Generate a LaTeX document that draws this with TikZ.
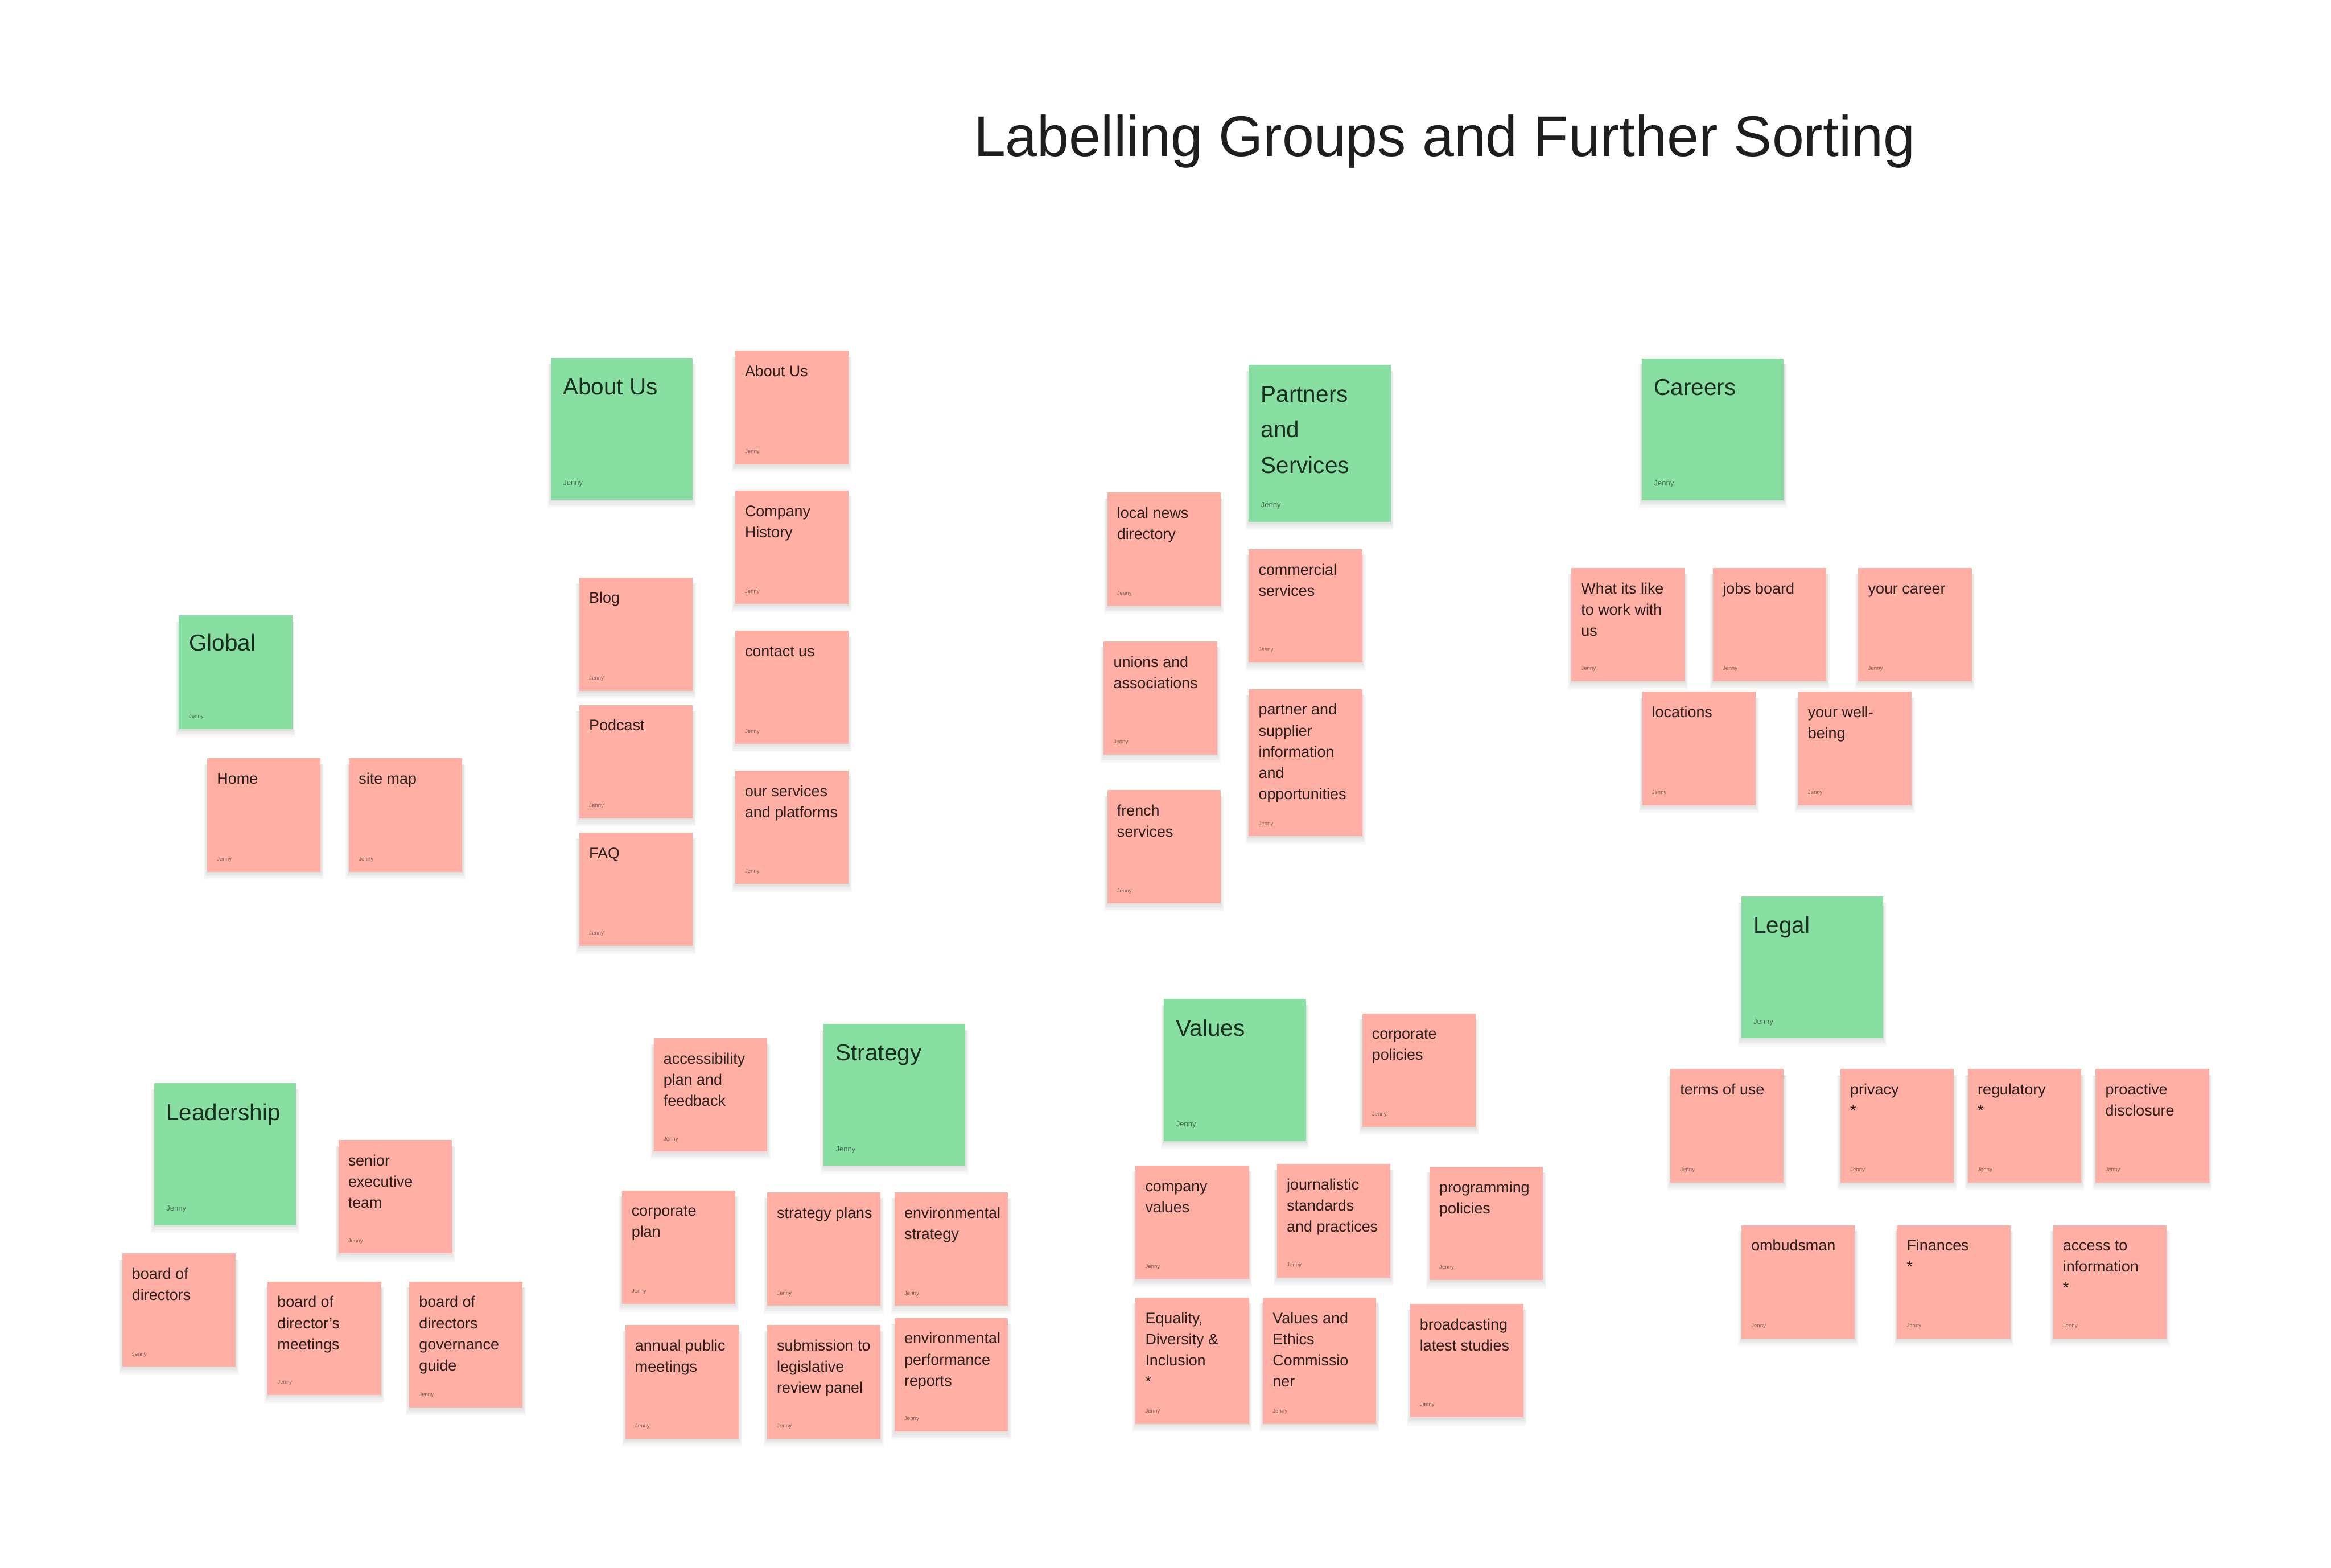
\documentclass[tikz,border=0pt]{standalone}
\usepackage{fontspec}
\setmainfont{Liberation Sans}
\usetikzlibrary{calc}
\definecolor{pinkc}{HTML}{FFAFA3}
\definecolor{greenc}{HTML}{87E0A2}
\definecolor{pinktext}{HTML}{2B201F}
\definecolor{pinkjen}{HTML}{7D5E59}
\definecolor{greentext}{HTML}{1B2E21}
\definecolor{greenjen}{HTML}{476B51}
\definecolor{titlec}{HTML}{1E1E1E}
\tikzset{
  note/.style={draw=none, inner sep=0pt, outer sep=0pt, anchor=north west},
  noteshadow/.style={fill=black, opacity=0.022},
  notetext/.style={inner sep=0pt, outer sep=0pt, anchor=base west},
}
\newcommand\pinkkind{\def\kfill{pinkc}\def\kdx{6.6}\def\kdy{17.3}%
  \def\kfont{\fontsize{10.3}{14.2}\selectfont}\def\kjdy{7.4}%
  \def\kjfont{\fontsize{3.7}{4}\selectfont}\def\ktc{pinktext}\def\kjc{pinkjen}}
\newcommand\greenkind{\def\kfill{greenc}\def\kdx{8.2}\def\kdy{24.8}%
  \def\kfont{\fontsize{15.5}{24}\selectfont}\def\kjdy{9.6}%
  \def\kjfont{\fontsize{5}{6}\selectfont}\def\ktc{greentext}\def\kjc{greenjen}}
\newcommand\smallgreenkind{\def\kfill{greenc}\def\kdx{6.8}\def\kdy{23.9}%
  \def\kfont{\fontsize{15.5}{24}\selectfont}\def\kjdy{7.2}%
  \def\kjfont{\fontsize{3.7}{4}\selectfont}\def\ktc{greentext}\def\kjc{greenjen}}
\newcommand\stk[6]{%
  \foreach \k in {1,...,5}{\fill[noteshadow] ({#2-0.45*\k},{-#3-4}) rectangle ({#2+#4+0.45*\k},{-#3-#5-1.1*\k});}
  \node[note, fill=\kfill, minimum width=#4pt, minimum height=#5pt] (#1) at (#2,-#3) {};
  \node[notetext, text=\ktc] (#1-t) at ($(#1.north west)+(\kdx,-\kdy)$) {\parbox[t]{120pt}{\kfont\raggedright #6}};
  \node[notetext, text=\kjc] (#1-j) at ($(#1.south west)+(\kdx,\kjdy)$) {\kjfont Jenny};
}
\newcommand\stkstar{\relax{*}}
\begin{document}
\begin{tikzpicture}[x=1pt,y=1pt]
\path[fill=white, use as bounding box] (0,0) rectangle (1568,-1054.46);
\node[inner sep=0pt, anchor=base west, text=titlec, font=\fontsize{38.5}{44}\selectfont] (title) at (654.8,-105.2) {Labelling Groups and Further Sorting};

% About Us
\greenkind
\stk{aboutg}{370.5}{240.7}{95.4}{95.4}{About Us}
\pinkkind
\stk{ab1}{494.5}{236}{76.3}{76.3}{About Us}
\stk{ab2}{494.5}{330}{76.3}{76.3}{Company\\History}
\stk{ab3}{494.5}{424.2}{76.3}{76.3}{contact us}
\stk{ab4}{494.5}{518.3}{76.3}{76.3}{our services\\and platforms}
\stk{ab5}{389.7}{388.4}{76.3}{76.3}{Blog}
\stk{ab6}{389.7}{474.2}{76.3}{76.3}{Podcast}
\stk{ab7}{389.7}{560}{76.3}{76.3}{FAQ}

% Global
\smallgreenkind
\stk{globalg}{120.3}{414}{76.3}{76.3}{Global}
\pinkkind
\stk{gl1}{139.4}{510}{76.3}{76.3}{Home}
\stk{gl2}{234.7}{510}{76.3}{76.3}{site map}

% Partners and Services
\greenkind
\stk{partg}{840}{245.5}{95.4}{105.5}{Partners\\and\\Services}
\pinkkind
\stk{pa1}{744.8}{331.3}{76.3}{76.3}{local news\\directory}
\stk{pa2}{742.4}{431.4}{76.3}{76.3}{unions and\\associations}
\stk{pa3}{744.8}{531.4}{76.3}{76.3}{french\\services}
\stk{pa4}{840}{369.4}{76.3}{76.3}{commercial\\services}
\stk{pa5}{840}{463.5}{76.3}{99}{partner and\\supplier\\information\\and\\opportunities}

% Careers
\greenkind
\stk{carg}{1104.5}{241}{95.4}{95.4}{Careers}
\pinkkind
\stk{ca1}{1057}{382}{76.3}{76.3}{What its like\\to work with\\us}
\stk{ca2}{1152.3}{382}{76.3}{76.3}{jobs board}
\stk{ca3}{1250}{382}{76.3}{76.3}{your career}
\stk{ca4}{1104.6}{465.3}{76.3}{76.3}{locations}
\stk{ca5}{1209.5}{465.3}{76.3}{76.3}{your well-\\being}

% Legal
\greenkind
\stk{legg}{1171.3}{603}{95.4}{95.4}{Legal}
\pinkkind
\stk{le1}{1123.6}{719}{76.3}{76.3}{terms of use}
\stk{le2}{1238}{719}{76.3}{76.3}{privacy\\\stkstar}
\stk{le3}{1323.7}{719}{76.3}{76.3}{regulatory\\\stkstar}
\stk{le4}{1409.6}{719}{76.3}{76.3}{proactive\\disclosure}
\stk{le5}{1171.4}{824}{76.3}{76.3}{ombudsman}
\stk{le6}{1276}{824}{76.3}{76.3}{Finances\\\stkstar}
\stk{le7}{1381}{824}{76.3}{76.3}{access to\\information\\\stkstar}

% Values
\greenkind
\stk{valg}{783}{672}{95.4}{95.4}{Values}
\pinkkind
\stk{va1}{916.3}{681.6}{76.3}{76.3}{corporate\\policies}
\stk{va2}{763.8}{784}{76.3}{76.3}{company\\values}
\stk{va3}{859}{783}{76.3}{76.3}{journalistic\\standards\\and practices}
\stk{va4}{961.6}{784.7}{76.3}{76.3}{programming\\policies}
\stk{va5}{763.8}{872.8}{76.3}{84.8}{Equality,\\Diversity \&\\Inclusion\\\stkstar}
\stk{va6}{849.5}{872.8}{76.3}{84.8}{Values and\\Ethics\\Commissio\\ner}
\stk{va7}{948.5}{877}{76.3}{76.3}{broadcasting\\latest studies}

% Strategy
\greenkind
\stk{strg}{554}{688.7}{95.4}{95.4}{Strategy}
\pinkkind
\stk{st1}{439.7}{698.3}{76.3}{76.3}{accessibility\\plan and\\feedback}
\stk{st2}{418.3}{800.7}{76.3}{76.3}{corporate\\plan}
\stk{st3}{516}{802}{76.3}{76.3}{strategy plans}
\stk{st4}{601.7}{802}{76.3}{76.3}{environmental\\strategy}
\stk{st5}{420.6}{891.3}{76.3}{76.3}{annual public\\meetings}
\stk{st6}{516}{891.3}{76.3}{76.3}{submission to\\legislative\\review panel}
\stk{st7}{601.7}{886.5}{76.3}{76.3}{environmental\\performance\\reports}

% Leadership
\greenkind
\stk{leadg}{103.7}{728.6}{95.4}{95.4}{Leadership}
\pinkkind
\stk{ld1}{227.6}{766.8}{76.3}{76.3}{senior\\executive\\team}
\stk{ld2}{82.2}{843}{76.3}{76.3}{board of\\directors}
\stk{ld3}{180}{862}{76.3}{76.3}{board of\\director’s\\meetings}
\stk{ld4}{275.3}{862}{76.3}{84.7}{board of\\directors\\governance\\guide}
\end{tikzpicture}
\end{document}
